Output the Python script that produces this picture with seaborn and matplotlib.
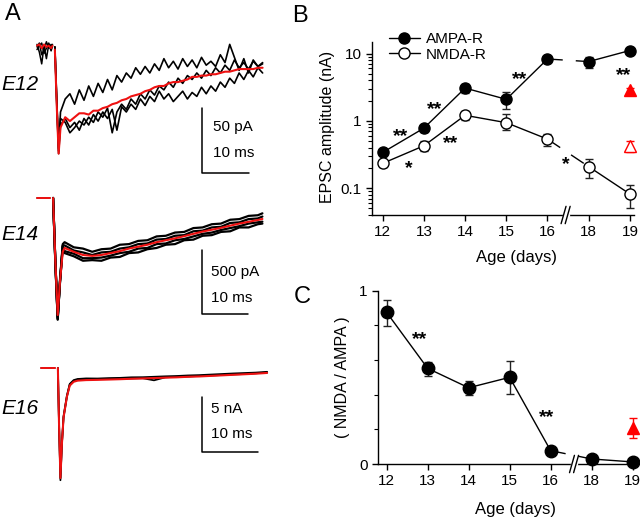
import numpy as np
import matplotlib
matplotlib.use("Agg")
import matplotlib.pyplot as plt
from matplotlib.lines import Line2D
from matplotlib.ticker import NullFormatter
import seaborn as sns

sns.set_style("ticks", {"axes.edgecolor": "black", "xtick.color": "black",
                        "ytick.color": "black", "text.color": "black",
                        "axes.labelcolor": "black"})
plt.rcParams['font.family'] = ['Liberation Sans', 'DejaVu Sans']

RED = '#ee1111'

# ---------------- panel A: example EPSC traces ----------------
# E12 (ms, pA)
e12_tb = [0, 0.5, 1.0, 1.5, 2.0, 2.5, 3.0, 3.3]
e12_base_k = [[2, -4, -13, 1, -9, 2, -3, 1],
              [0, 3, -6, -2, 4, -1, 2, 0],
              [-2, 1, 3, -5, -1, 3, -2, 2]]
e12_base_r = [1, 2, -1, 2, 0, 1, -1, 1]
e12_t = [3.8, 4.2, 4.6, 5.0] + list(range(6, 49))
e12_k1 = [0, -40, -78, -50,
          -40, -36, -44, -33, -41, -30, -38, -28, -35, -25, -33, -22, -27, -20, -24,
          -16, -21, -15, -20, -13, -18, -9, -16, -11, -17, -9, -15, -10, -16, -8,
          -14, -11, -15, -6, -12, 2, -8, -18, -9, -20, -10, -15, -12]
e12_k2 = [0, -44, -82, -60,
          -55, -62, -58, -64, -55, -60, -52, -57, -50, -55, -48, -64, -46, -50, -44,
          -48, -40, -45, -38, -42, -34, -40, -36, -42, -38, -34, -40, -35, -38, -31,
          -36, -30, -34, -27, -31, -24, -28, -20, -25, -18, -23, -16, -20]
e12_k3 = [0, -42, -80, -55,
          -58, -66, -62, -57, -60, -54, -58, -50, -54, -47, -66, -50, -44, -48, -40,
          -44, -36, -40, -33, -37, -30, -33, -27, -31, -24, -28, -22, -25, -20, -24,
          -18, -22, -16, -20, -14, -18, -10, -16, -12, -17, -11, -15, -13]
e12_r = [-2, -45, -82, -62,
         -54, -57, -54, -51, -51, -52, -49, -49, -47, -46, -44, -43, -41, -40, -38,
         -37, -36, -34, -33, -31, -30, -30, -28, -27, -27, -26, -25, -23, -23, -22,
         -22, -21, -21, -20, -19, -19, -18, -17, -17, -17, -17, -16, -16]

# E14 (ms, pA)
e14_tb = [0, 2.8]
e14_base_r = [0, 0]
e14_t = [3.5, 4.0, 4.5, 5.0, 5.6] + list(range(6, 49, 2)) + [49]
e14_ka = [0, -520, -950, -640, -360,
          -345, -385, -395, -420, -400, -395, -365, -360, -335, -330, -300,
          -295, -270, -265, -235, -230, -205, -200, -170, -165, -140, -135, -120]
e14_kb = [0, -510, -940, -660, -380,
          -430, -455, -490, -485, -490, -465, -460, -430, -425, -400, -390,
          -365, -360, -330, -325, -295, -290, -265, -260, -230, -230, -205, -200]
e14_kc = [0, -500, -930, -650, -370,
          -370, -410, -425, -445, -425, -420, -395, -385, -360, -355, -325,
          -320, -295, -290, -260, -255, -230, -225, -195, -190, -165, -160, -145]
e14_kd = [0, -505, -945, -655, -375,
          -415, -435, -470, -470, -465, -450, -430, -420, -395, -390, -360,
          -355, -330, -320, -300, -280, -270, -250, -235, -220, -200, -190, -185]
e14_r = [0, -500, -913, -650, -420,
         -390, -420, -445, -452, -445, -430, -415, -395, -380, -365, -345,
         -330, -315, -298, -280, -262, -248, -233, -216, -200, -186, -172, -164]

# E16 (ms, nA)
e16_tb = [0, 2.5]
e16_base_r = [0, 0]
e16_t = [3.0, 3.2, 3.45, 3.7, 4.0, 4.6, 5.1, 5.8, 6.5] + list(range(8, 41, 2))
e16_k1 = [0, -5, -10.2, -7, -4.4, -2.5, -1.45, -1.1, -1.0,
          -0.95, -0.96, -0.92, -0.9, -0.85, -0.84, -0.8, -0.76, -0.73,
          -0.68, -0.65, -0.6, -0.55, -0.5, -0.46, -0.42, -0.35]
e16_k2 = [0, -5, -10, -7, -4.5, -2.6, -1.5, -1.2, -1.05,
          -1.05, -1.0, -1.0, -0.97, -0.95, -0.93, -1.12, -0.85, -0.8,
          -0.78, -0.72, -0.68, -0.64, -0.58, -0.55, -0.48, -0.42]
e16_r = [0, -5, -10, -7, -4.5, -2.6, -1.6, -1.25, -1.15,
         -1.1, -1.08, -1.05, -1.02, -0.98, -0.95, -0.92, -0.88, -0.85,
         -0.8, -0.77, -0.72, -0.67, -0.62, -0.57, -0.52, -0.45]

# ---------------- panels B and C ----------------
ages = ['12', '13', '14', '15', '16', '18', '19']
ampa = [0.34, 0.78, 3.07, 2.09, 8.3, 7.6, 11.1]
ampa_lo = [0.30, 0.68, 2.6, 1.49, 7.8, 6.0, 10.2]
ampa_hi = [0.38, 0.88, 3.5, 2.68, 8.8, 8.9, 12.0]
nmda = [0.234, 0.427, 1.21, 0.94, 0.536, 0.209, 0.082]
nmda_lo = [0.21, 0.36, 1.03, 0.73, 0.43, 0.143, 0.05]
nmda_hi = [0.26, 0.50, 1.40, 1.25, 0.63, 0.27, 0.11]
red_ampa, red_ampa_lo, red_ampa_hi = 2.9, 2.6, 3.1
red_nmda, red_nmda_lo, red_nmda_hi = 0.43, 0.35, 0.50
b_stars = [('**', 0.44, 0.74), ('*', 0.64, 0.248), ('**', 1.27, 1.82),
           ('**', 1.65, 0.58), ('**', 3.33, 5.07), ('*', 4.45, 0.277),
           ('**', 5.85, 5.95)]

ratio = [0.875, 0.552, 0.44, 0.50, 0.077, 0.029, 0.012]
ratio_lo = [0.796, 0.508, 0.398, 0.402, 0.058, 0.020, 0.005]
ratio_hi = [0.946, 0.590, 0.480, 0.594, 0.094, 0.038, 0.019]
red_ratio, red_ratio_lo, red_ratio_hi = 0.21, 0.148, 0.263
c_stars = [('**', 0.80, 0.754), ('**', 3.90, 0.308)]

fig = plt.figure(figsize=(6.4, 5.18), dpi=100)
W, H = 640.0, 518.0


def rect(x0, y0, x1, y1):
    return [x0 / W, 1 - y1 / H, (x1 - x0) / W, (y1 - y0) / H]


def trace_panel(r, xlim, ylim, tb, bases_k, base_r, t, blacks, red, bar, bar_txt, lwk):
    ax = fig.add_axes(r)
    for b in bases_k:
        sns.lineplot(x=tb, y=b, ax=ax, color='k', lw=1.1, sort=False,
                     estimator=None, legend=False)
    for k in blacks:
        sns.lineplot(x=t, y=k, ax=ax, color='k', lw=lwk, sort=False,
                     estimator=None, legend=False)
    sns.lineplot(x=tb, y=base_r, ax=ax, color=RED, lw=1.4, sort=False,
                 estimator=None, legend=False)
    sns.lineplot(x=t, y=red, ax=ax, color=RED, lw=1.5, sort=False,
                 estimator=None, legend=False)
    bx, by, bamp, bms = bar
    ax.plot([bx, bx, bx + bms], [by + bamp, by, by], color='k', lw=1.1)
    tx, ty1, ty2, lab = bar_txt
    ax.text(tx, ty1, lab, fontsize=11, va='center', ha='left')
    ax.text(tx, ty2, '10 ms', fontsize=11, va='center', ha='left')
    ax.set_xlim(*xlim)
    ax.set_ylim(*ylim)
    ax.axis('off')
    return ax


trace_panel(rect(30, 35, 270, 180), (-1.49, 49.57), (-102.3, 9.2),
            e12_tb, e12_base_k, e12_base_r, e12_t, [e12_k1, e12_k2, e12_k3], e12_r,
            (35.1, -96.9, 50, 10), (37.4, -61.5, -81.5, '50 pA'), 1.2)
trace_panel(rect(30, 185, 270, 330), (-1.52, 50.65), (-1030, 101),
            e14_tb, [e14_base_r], e14_base_r, e14_t, [e14_ka, e14_kb, e14_kc, e14_kd], e14_r,
            (35.9, -905, 500, 10), (37.8, -575, -778, '500 pA'), 1.6)
trace_panel(rect(30, 355, 280, 490), (-1.93, 42.28), (-11.09, 1.18),
            e16_tb, [e16_base_r], e16_base_r, e16_t, [e16_k1, e16_k2], e16_r,
            (28.4, -7.61, 5, 10), (30.05, -3.75, -6.03, '5 nA'), 1.3)

for lab, yy in [('E12', 85), ('E14', 235), ('E16', 408)]:
    fig.text(1 / W, 1 - yy / H, lab, fontsize=15, style='italic', va='center', ha='left')
for lab, xx, yy in [('A', 12.5, 14), ('B', 300, 16), ('C', 302, 297)]:
    fig.text(xx / W, 1 - yy / H, lab, fontsize=17, va='center', ha='center')

x = np.arange(len(ages))


def series(ax, vals, lo, hi, face, ms):
    vals = np.array(vals)
    sns.lineplot(x=x[:5], y=vals[:5], ax=ax, color='k', lw=1, estimator=None,
                 legend=False)
    sns.lineplot(x=x[5:], y=vals[5:], ax=ax, color='k', lw=1, estimator=None,
                 legend=False)
    ax.plot(x[4:6], vals[4:6], color='k', lw=1, linestyle=(0, (11, 9.4)))
    ax.errorbar(x, vals, yerr=[vals - np.array(lo), np.array(hi) - vals], fmt='o',
                ms=ms, mfc=face, mec='k', mew=1, ecolor='#222222', elinewidth=1,
                capsize=3, capthick=1, zorder=4, clip_on=False)


def red_tri(ax, v, lo, hi, face, ms):
    ax.errorbar([x[-1]], [v], yerr=[[v - lo], [hi - v]], fmt='^', ms=ms, mfc=face,
                mec='red', mew=1, ecolor='red', elinewidth=1, capsize=3,
                capthick=1, zorder=4, clip_on=False)


def axis_break(ax, pos, dx):
    tr = ax.get_xaxis_transform()
    ax.plot([pos - dx, pos + dx], [0, 0], color='white', lw=2.5, transform=tr,
            clip_on=False, zorder=5)
    for off in (-dx, dx):
        ax.plot([pos + off - 0.06, pos + off + 0.06], [-0.05, 0.05], color='k',
                lw=1, transform=tr, clip_on=False, zorder=6)


def stars(ax, items):
    for s, sx, sy in items:
        ax.annotate(s, (sx, sy), xytext=(0, -8), textcoords='offset points',
                    ha='center', va='baseline', fontsize=14, fontweight='bold')


# panel B
axB = fig.add_axes(rect(372, 41.7, 634, 215))
axB.set_yscale('log')
series(axB, ampa, ampa_lo, ampa_hi, 'k', 8)
series(axB, nmda, nmda_lo, nmda_hi, 'white', 8)
red_tri(axB, red_ampa, red_ampa_lo, red_ampa_hi, 'red', 8)
red_tri(axB, red_nmda, red_nmda_lo, red_nmda_hi, 'white', 8)
stars(axB, b_stars)
axB.set_ylim(0.04, 15)
axB.set_xlim(-0.26, 6.1)
axB.set_yticks([0.1, 1, 10])
axB.set_yticklabels(['0.1', '1', '10'])
axB.yaxis.set_minor_formatter(NullFormatter())
axB.set_xticks(x)
axB.set_xticklabels(ages)
axB.set_ylabel('EPSC amplitude (nA)', fontsize=11.5)
axB.set_xlabel('Age (days)', fontsize=12)
axB.yaxis.set_label_coords(-0.141, 0.51)
axB.xaxis.set_label_coords(0.55, -0.2)
axis_break(axB, 4.44, 0.05)
handles = [Line2D([0], [0], color='k', lw=1, marker='o', ms=8, mfc='k', mec='k'),
           Line2D([0], [0], color='k', lw=1, marker='o', ms=8, mfc='white', mec='k')]
axB.legend(handles, ['AMPA-R', 'NMDA-R'], loc='upper left', bbox_to_anchor=(0.065, 1.056),
           frameon=False, fontsize=11, handlelength=2.0, handletextpad=0.4,
           labelspacing=0.1, borderpad=0, borderaxespad=0)

# panel C
axC = fig.add_axes(rect(378, 290.7, 638, 464))
series(axC, ratio, ratio_lo, ratio_hi, 'k', 9)
red_tri(axC, red_ratio, red_ratio_lo, red_ratio_hi, 'red', 9)
stars(axC, c_stars)
axC.set_ylim(0, 1)
axC.set_xlim(-0.21, 6.13)
axC.set_yticks([0, 1])
axC.set_yticklabels(['0', '1'])
axC.set_yticks([0.2, 0.4, 0.6, 0.8], minor=True)
axC.set_xticks(x)
axC.set_xticklabels(ages)
axC.set_ylabel('( NMDA / AMPA )', fontsize=11.5)
axC.set_xlabel('Age (days)', fontsize=12)
axC.yaxis.set_label_coords(-0.108, 0.50)
axC.xaxis.set_label_coords(0.527, -0.22)
axis_break(axC, 4.57, 0.05)

for ax in (axB, axC):
    sns.despine(ax=ax)
    for sp in ax.spines.values():
        sp.set_linewidth(1)
    ax.tick_params(which='major', direction='out', length=4.5, width=1,
                   labelsize=11, pad=3)
    ax.tick_params(which='minor', direction='out', length=3, width=0.8)

fig.savefig('out.png', dpi=100)
